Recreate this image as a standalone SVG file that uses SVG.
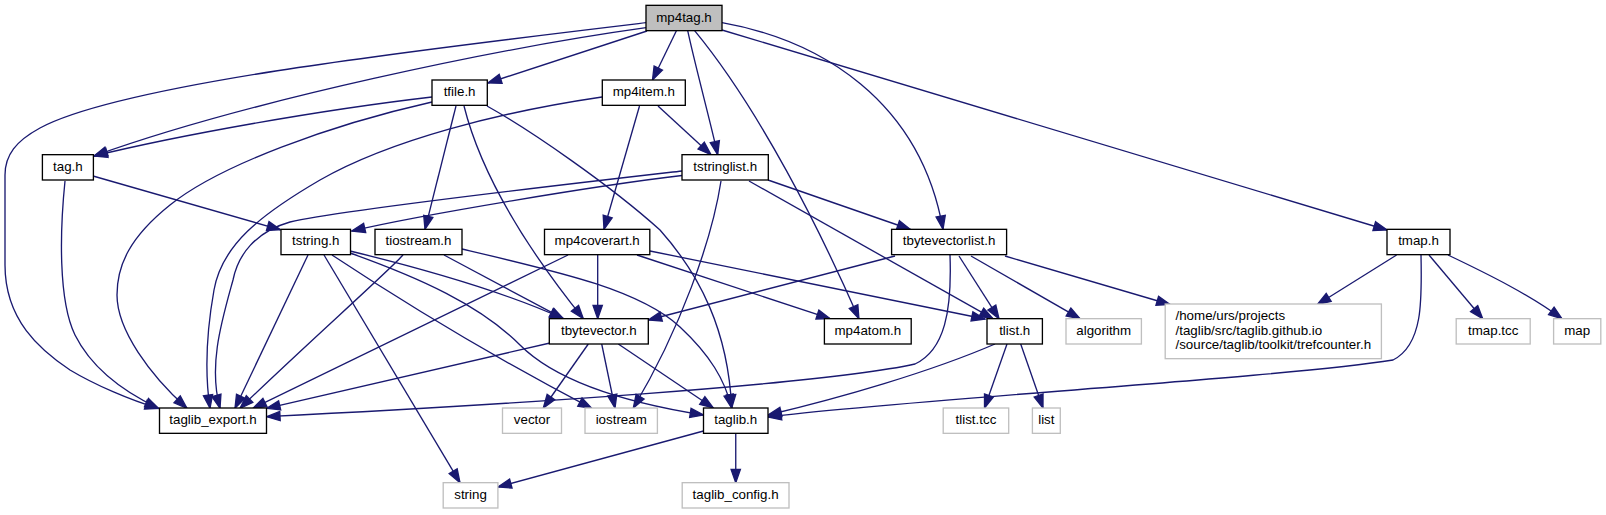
<svg xmlns="http://www.w3.org/2000/svg" width="1606" height="515" viewBox="0 0 1606 515">
<style>
.node rect{fill:#ffffff;stroke:#000000;stroke-width:1.33}
.ext rect{stroke:#bfbfbf}
.main rect{fill:#bfbfbf}
text{font-family:"Liberation Sans",Arial,Helvetica,sans-serif;font-size:13.33px;fill:#000000;text-anchor:middle}
.edges path{fill:none;stroke:#191970;stroke-width:1.33;marker-end:url(#arr)}
</style>
<defs>
<marker id="arr" markerUnits="userSpaceOnUse" markerWidth="16" markerHeight="12" refX="13.3" refY="4.67" orient="auto" overflow="visible">
<path d="M0,0 L13.3,4.67 L0,9.33 Z" fill="#191970" stroke="#191970" stroke-width="1.33"/>
</marker>
</defs>
<rect x="0" y="0" width="1606" height="515" fill="#ffffff"/>
<g class="edges" id="edges">
<path d="M646,22.7 C400,52 120,85 40,128 C16,141 5,155 5,175 L5,265 C5,320 40,350 70,370 C95,385 130,400 158.5,408.5"/>
<path d="M646,27.7 C500,48 250,100 94,156"/>
<path d="M647,31 L488,83"/>
<path d="M676.4,30.7 L652.5,80"/>
<path d="M687.7,30.7 C695,65 710,120 717.7,154.7"/>
<path d="M694.6,30.7 C760,110 820,230 858.9,318.7"/>
<path d="M722,22.7 C820,40 920,100 943,229.3"/>
<path d="M722,30 L1387,230"/>
<path d="M432,97 C320,110 180,135 94,156"/>
<path d="M432,102 C330,125 220,165 170,205 C130,237 117,265 117,295 C117,330 150,375 187,408.3"/>
<path d="M456,106 L425,229.3"/>
<path d="M464,106 C480,170 520,240 583.3,318.7"/>
<path d="M487,106 C530,130 610,185 660,230 C700,275 728,330 731.7,408"/>
<path d="M658,106 L711,154.7"/>
<path d="M639.5,106 L604,229.3"/>
<path d="M602,97 C500,112 390,140 320,180 C260,215 222,245 214,290 C206,335 205,375 210,408.3"/>
<path d="M93,176 L280.5,229.8"/>
<path d="M65,181 C60,230 58,300 75,335 C90,365 120,390 158.5,408.3"/>
<path d="M682,175.5 C600,185 420,215 351.7,231"/>
<path d="M682,171 C560,185 340,210 290,222 C255,232 238,255 233,280 C222,320 208,365 220,408.3"/>
<path d="M721,181 C712,240 680,330 633.3,408"/>
<path d="M749,181 L993,318.7"/>
<path d="M768,180 L910.5,229.5"/>
<path d="M308,255 L235,408.3"/>
<path d="M324,255 L460,482.7"/>
<path d="M332,255 C400,300 480,350 591.7,408.3"/>
<path d="M350,251 C420,268 500,290 563.3,318.7"/>
<path d="M350,253 C420,278 480,305 520,345 C560,385 640,405 703.5,415"/>
<path d="M403,255 C390,270 300,350 240,408.3"/>
<path d="M444,255 L563.3,318.7"/>
<path d="M462,249 C560,272 640,290 680,327 C710,355 725,380 731.7,408"/>
<path d="M568,255 L253,408.3"/>
<path d="M597.7,255 L597.7,318.7"/>
<path d="M637,255 L830,318.7"/>
<path d="M650,251 L985,319"/>
<path d="M895,256 L648.3,320"/>
<path d="M950,255 C952,310 945,350 915,364 C820,385 500,405 266.7,416.7"/>
<path d="M959,256 L999,318.7"/>
<path d="M971,256 L1080,318.7"/>
<path d="M1005,256 L1170,304.5"/>
<path d="M1396.6,255 L1317.4,304.5"/>
<path d="M1421,255 C1422,300 1423,345 1393,360 C1280,378 900,400 768,417"/>
<path d="M1429,255 L1482.7,318.7"/>
<path d="M1448,255 C1490,275 1530,295 1562,318.7"/>
<path d="M550,343 L266.7,408.3"/>
<path d="M588.3,344 L543.3,408"/>
<path d="M601.7,344 L615,408"/>
<path d="M618.3,344 L713.3,408"/>
<path d="M995,344 C930,372 840,398 768,415"/>
<path d="M1007,344 L984.5,408"/>
<path d="M1020.7,344 L1043,408"/>
<path d="M735.75,433.3 L735.75,482.7"/>
<path d="M703.5,431 L498,487"/>
</g>
<g id="node_mp4tag" class="node main"><rect x="646" y="5.33" width="76" height="25.33"/><text x="684" y="21.5">mp4tag.h</text></g>
<g id="node_tfile" class="node"><rect x="432" y="80" width="55.3" height="25.33"/><text x="459.6" y="96">tfile.h</text></g>
<g id="node_mp4item" class="node"><rect x="602.3" y="80" width="83" height="25.33"/><text x="643.8" y="96">mp4item.h</text></g>
<g id="node_tag" class="node"><rect x="42.4" y="154.67" width="51" height="25.33"/><text x="67.9" y="170.67">tag.h</text></g>
<g id="node_tstringlist" class="node"><rect x="682" y="154.67" width="86.3" height="25.33"/><text x="725.2" y="170.67">tstringlist.h</text></g>
<g id="node_tstring" class="node"><rect x="281" y="229.33" width="69.5" height="25.33"/><text x="315.75" y="245.33">tstring.h</text></g>
<g id="node_tiostream" class="node"><rect x="375" y="229.33" width="87" height="25.33"/><text x="418.5" y="245.33">tiostream.h</text></g>
<g id="node_mp4coverart" class="node"><rect x="544.5" y="229.33" width="105.3" height="25.33"/><text x="597.2" y="245.33">mp4coverart.h</text></g>
<g id="node_tbytevectorlist" class="node"><rect x="891.6" y="229.33" width="115" height="25.33"/><text x="949.1" y="245.33">tbytevectorlist.h</text></g>
<g id="node_tmap" class="node"><rect x="1387" y="229.33" width="63" height="25.33"/><text x="1418.5" y="245.33">tmap.h</text></g>
<g id="node_tbytevector" class="node"><rect x="549.3" y="318.67" width="99" height="25.33"/><text x="598.8" y="334.67">tbytevector.h</text></g>
<g id="node_mp4atom" class="node"><rect x="824.4" y="318.67" width="86.8" height="25.33"/><text x="867.8" y="334.67">mp4atom.h</text></g>
<g id="node_tlist" class="node"><rect x="987" y="318.67" width="55.4" height="25.33"/><text x="1014.7" y="334.67">tlist.h</text></g>
<g id="node_algorithm" class="node ext"><rect x="1066" y="318.67" width="75.4" height="25.33"/><text x="1103.7" y="334.67">algorithm</text></g>
<g id="node_trefcounter" class="node ext"><rect x="1165.2" y="304" width="216.2" height="54.67"/><text x="1175.5" y="320" style="text-anchor:start">/home/urs/projects</text><text x="1175.5" y="334.67" style="text-anchor:start">/taglib/src/taglib.github.io</text><text x="1175.5" y="349.33" style="text-anchor:start">/source/taglib/toolkit/trefcounter.h</text></g>
<g id="node_tmaptcc" class="node ext"><rect x="1456.2" y="318.67" width="74" height="25.33"/><text x="1493.2" y="334.67">tmap.tcc</text></g>
<g id="node_map" class="node ext"><rect x="1553.6" y="318.67" width="47.2" height="25.33"/><text x="1577.2" y="334.67">map</text></g>
<g id="node_taglib_export" class="node"><rect x="159.5" y="408" width="107" height="25.33"/><text x="213" y="424">taglib_export.h</text></g>
<g id="node_vector" class="node ext"><rect x="502.5" y="408" width="59" height="25.33"/><text x="532" y="424">vector</text></g>
<g id="node_iostream" class="node ext"><rect x="585" y="408" width="72.4" height="25.33"/><text x="621.2" y="424">iostream</text></g>
<g id="node_taglib" class="node"><rect x="703.5" y="408" width="64.5" height="25.33"/><text x="735.75" y="424">taglib.h</text></g>
<g id="node_tlisttcc" class="node ext"><rect x="943.2" y="408" width="65.5" height="25.33"/><text x="975.95" y="424">tlist.tcc</text></g>
<g id="node_list" class="node ext"><rect x="1032.4" y="408" width="27.9" height="25.33"/><text x="1046.35" y="424">list</text></g>
<g id="node_string" class="node ext"><rect x="443.2" y="482.67" width="54.7" height="25.33"/><text x="470.55" y="498.67">string</text></g>
<g id="node_taglib_config" class="node ext"><rect x="682.2" y="482.67" width="106.8" height="25.33"/><text x="735.6" y="498.67">taglib_config.h</text></g>
</svg>
